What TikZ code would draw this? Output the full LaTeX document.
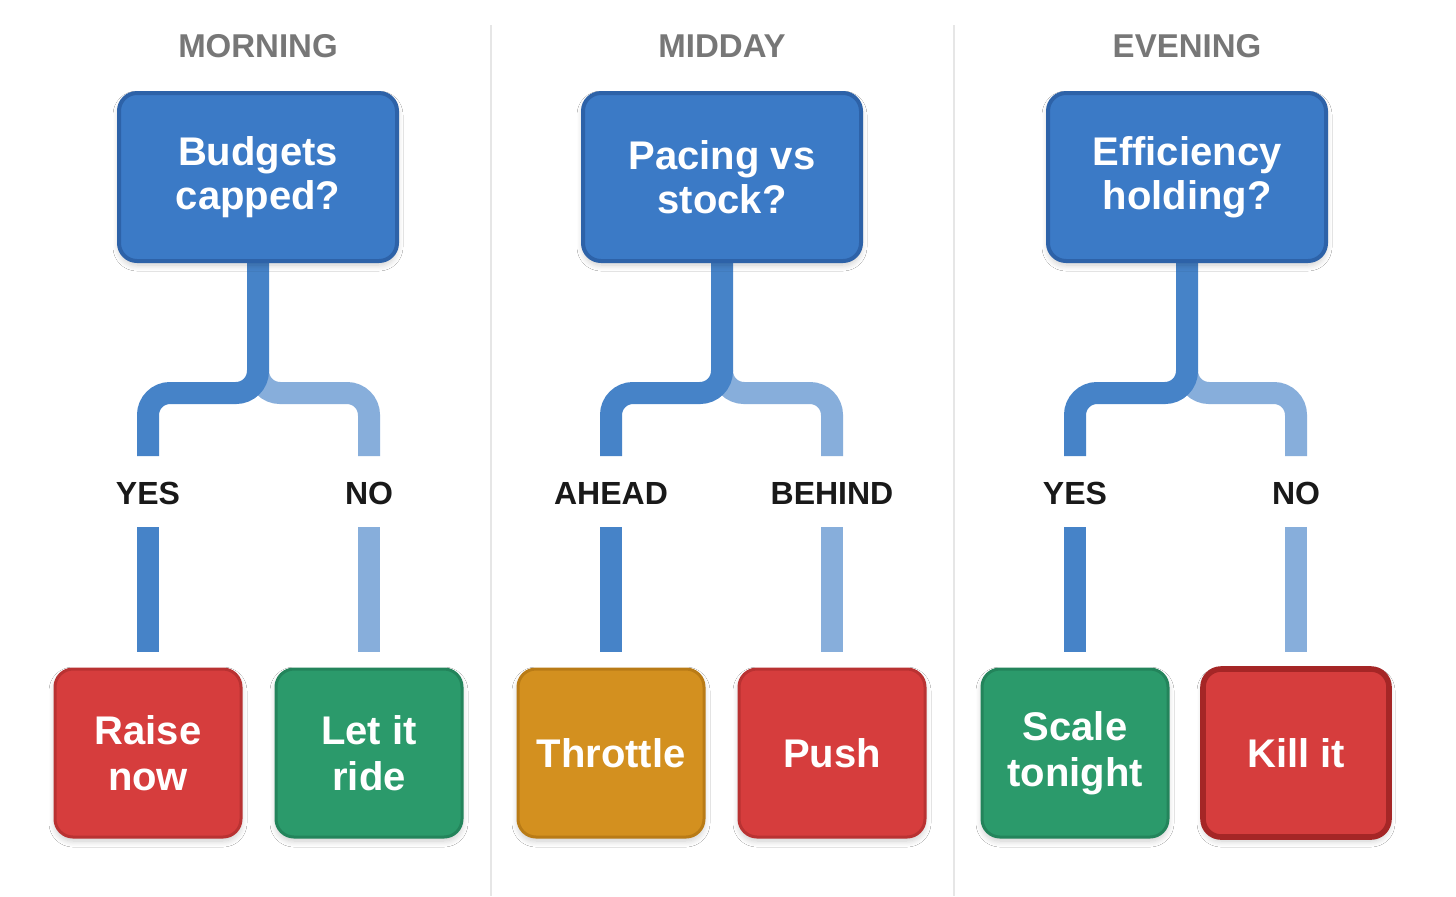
\documentclass[tikz,border=0pt]{standalone}
\usepackage{fontspec}
\setmainfont{Liberation Sans}
\usetikzlibrary{shadows.blur,backgrounds}
\definecolor{qfill}{HTML}{3B7AC6}
\definecolor{qedge}{HTML}{2D62A8}
\definecolor{brdark}{HTML}{4683C8}
\definecolor{brlight}{HTML}{87AEDB}
\definecolor{rfill}{HTML}{D63D3D}
\definecolor{redge}{HTML}{B93232}
\definecolor{kedge}{HTML}{A52626}
\definecolor{gfill}{HTML}{2B9A6B}
\definecolor{gedge}{HTML}{23845B}
\definecolor{ofill}{HTML}{D3901F}
\definecolor{oedge}{HTML}{B97B16}
\definecolor{hdr}{HTML}{777777}
\definecolor{divider}{HTML}{E6E6E6}
\tikzset{
  hdrtext/.style={font=\fontsize{16.5}{18}\selectfont\bfseries, text=hdr},
  qbox/.style={draw=qedge, line width=2pt, fill=qfill, rounded corners=9pt,
    minimum width=139pt, minimum height=84pt, align=center, text=white,
    font=\fontsize{20}{22}\selectfont\bfseries,
    blur shadow={shadow xshift=0pt, shadow yshift=-2pt, shadow blur steps=8, shadow blur radius=3pt, shadow opacity=20}},
  abox/.style={line width=1.5pt, rounded corners=9pt,
    minimum width=93pt, minimum height=84pt, align=center, text=white,
    font=\fontsize{20}{23}\selectfont\bfseries,
    blur shadow={shadow xshift=0pt, shadow yshift=-2pt, shadow blur steps=8, shadow blur radius=3pt, shadow opacity=20}},
  redbox/.style={abox, draw=redge, fill=rfill},
  killbox/.style={abox, draw=kedge, fill=rfill, line width=2.8pt},
  greenbox/.style={abox, draw=gedge, fill=gfill},
  goldbox/.style={abox, draw=oedge, fill=ofill},
  lbl/.style={font=\fontsize{16}{18}\selectfont\bfseries, text=black!90},
  brdk/.style={draw=brdark, line width=11pt, rounded corners=11pt},
  brlt/.style={draw=brlight, line width=11pt, rounded corners=11pt},
  divline/.style={draw=divider, line width=0.7pt},
}
\begin{document}
\begin{tikzpicture}[x=0.5pt, y=-0.5pt]
\useasboundingbox (0,0) rectangle (1456,896);
% headers
\node[hdrtext] (h1) at (258,46) {MORNING};
\node[hdrtext] (h2) at (722,46) {MIDDAY};
\node[hdrtext] (h3) at (1187,46) {EVENING};

% Column 1
\node[qbox] (q1) at (258,177) {Budgets\\capped?};
\node[lbl] (y1) at (148,493) {YES};
\node[lbl] (n1) at (369,493) {NO};
\node[redbox] (a1) at (148,753) {Raise\\now};
\node[greenbox] (b1) at (369,753) {Let it\\ride};
\coordinate (j1) at (258,393);
\coordinate (j1a) at (258,380);
\coordinate (c1l) at (148,393);
\coordinate (c1r) at (369,393);
\coordinate (e1l) at (148,456);
\coordinate (e1r) at (369,456);
\coordinate (s1l) at (148,527);
\coordinate (s1r) at (369,527);
\coordinate (t1l) at (148,652);
\coordinate (t1r) at (369,652);

% Column 2
\node[qbox] (q2) at (722,177) {Pacing vs\\stock?};
\node[lbl] (y2) at (611,493) {AHEAD};
\node[lbl] (n2) at (832,493) {BEHIND};
\node[goldbox] (a2) at (611,753) {Throttle};
\node[redbox] (b2) at (832,753) {Push};
\coordinate (j2) at (722,393);
\coordinate (j2a) at (722,380);
\coordinate (c2l) at (611,393);
\coordinate (c2r) at (832,393);
\coordinate (e2l) at (611,456);
\coordinate (e2r) at (832,456);
\coordinate (s2l) at (611,527);
\coordinate (s2r) at (832,527);
\coordinate (t2l) at (611,652);
\coordinate (t2r) at (832,652);

% Column 3
\node[qbox] (q3) at (1187,177) {Efficiency\\holding?};
\node[lbl] (y3) at (1075,493) {YES};
\node[lbl] (n3) at (1296,493) {NO};
\node[greenbox] (a3) at (1075,753) {Scale\\tonight};
\node[killbox] (b3) at (1296,753) {Kill it};
\coordinate (j3) at (1187,393);
\coordinate (j3a) at (1187,380);
\coordinate (c3l) at (1075,393);
\coordinate (c3r) at (1296,393);
\coordinate (e3l) at (1075,456);
\coordinate (e3r) at (1296,456);
\coordinate (s3l) at (1075,527);
\coordinate (s3r) at (1296,527);
\coordinate (t3l) at (1075,652);
\coordinate (t3r) at (1296,652);

\begin{pgfonlayer}{background}
\fill[white] (0,0) rectangle (1456,896);
% dividers
\coordinate (d1t) at (491,25); \coordinate (d1b) at (491,896);
\coordinate (d2t) at (954,25); \coordinate (d2b) at (954,896);
\draw[divline] (d1t) -- (d1b);
\draw[divline] (d2t) -- (d2b);
\draw[brlt] (j1a) -- (j1) -- (c1r) -- (e1r);
\draw[brdk] (q1.south) -- (j1) -- (c1l) -- (e1l);
\draw[brlight, line width=11pt] (s1r) -- (t1r);
\draw[brdark, line width=11pt] (s1l) -- (t1l);
\draw[brlt] (j2a) -- (j2) -- (c2r) -- (e2r);
\draw[brdk] (q2.south) -- (j2) -- (c2l) -- (e2l);
\draw[brlight, line width=11pt] (s2r) -- (t2r);
\draw[brdark, line width=11pt] (s2l) -- (t2l);
\draw[brlt] (j3a) -- (j3) -- (c3r) -- (e3r);
\draw[brdk] (q3.south) -- (j3) -- (c3l) -- (e3l);
\draw[brlight, line width=11pt] (s3r) -- (t3r);
\draw[brdark, line width=11pt] (s3l) -- (t3l);
\end{pgfonlayer}
\end{tikzpicture}
\end{document}
